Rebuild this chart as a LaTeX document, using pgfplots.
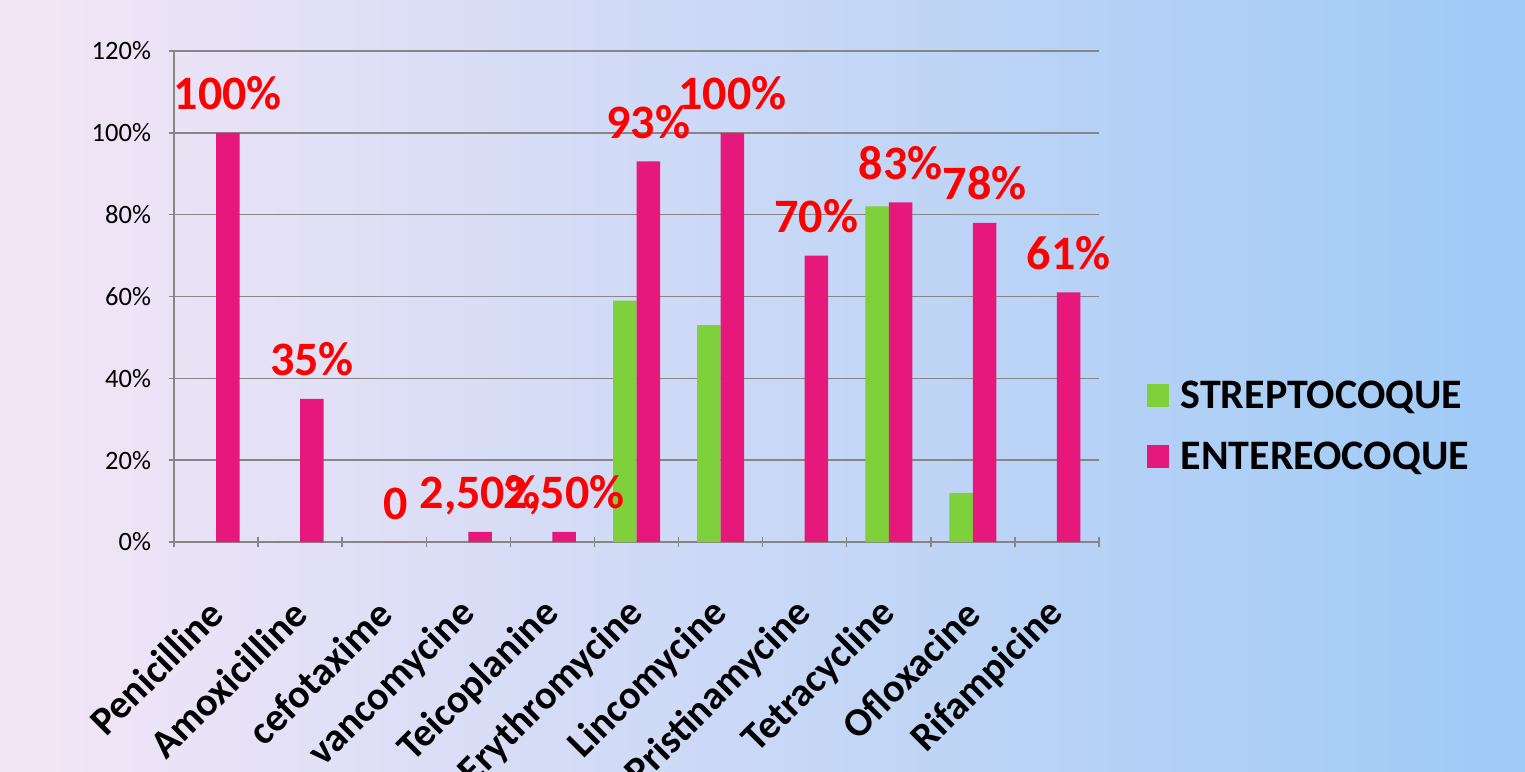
\documentclass[border=0pt]{standalone}
\usepackage{pgfplots}
\pgfplotsset{compat=1.18}
\usepackage{fontspec}
\setmainfont{Carlito}
\definecolor{bgL}{HTML}{F4E6F6}
\definecolor{bgR}{HTML}{9ECAF6}
\definecolor{strep}{HTML}{7FD13B}
\definecolor{entero}{HTML}{E6187C}
\definecolor{axgray}{HTML}{868686}
\begin{document}
\begin{tikzpicture}[x=1pt,y=1pt]
\useasboundingbox (0,0) rectangle (1525,771);
\shade[left color=bgL, right color=bgR] (0,0) rectangle (1525,771);
\begin{axis}[
  at={(174pt,229pt)}, anchor=south west,
  scale only axis, width=925pt, height=491pt,
  ybar=0pt, bar width=23.5pt,
  xmin=-0.5, xmax=10.5, ymin=0, ymax=120,
  xtick={-0.5,0.5,...,10.5},
  x tick label as interval,
  xticklabels={Penicilline,Amoxicilline,cefotaxime,vancomycine,Teicoplanine,Erythromycine,Lincomycine,Pristinamycine,Tetracycline,Ofloxacine,Rifampicine},
  xticklabel style={rotate=45, anchor=east, font=\fontsize{40}{44}\selectfont\bfseries, inner sep=0pt, yshift=-42.5pt, xshift=-42pt},
  ytick={0,20,...,120},
  yticklabel={\pgfmathprintnumber{\tick}\%},
  yticklabel style={font=\fontsize{26.5}{30}\selectfont, xshift=-14pt},
  /pgf/number format/assume math mode=true,
  tick align=outside, tick pos=left, major tick length=11pt,
  tick style={axgray, line width=1.5pt},
  axis lines=left,
  axis line style={axgray, line width=1.8pt, -},
  ymajorgrids, grid style={axgray, line width=1.5pt},
  legend style={at={(1.048,0.236)}, anchor=west, draw=none, fill=none,
    font=\fontsize{42}{46}\selectfont\bfseries, row sep=32pt,
    nodes={inner sep=0pt}},
  legend image code/.code={\fill[#1] (0pt,-11.5pt) rectangle (22pt,11.5pt);},
  legend cell align=left,
  every node near coord/.append style={anchor=base, yshift=23pt, text=red,
    font=\fontsize{48}{52}\selectfont\bfseries},
]
\addplot[fill=strep, draw=none] coordinates {(5,59) (6,53) (8,82) (9,12)};
\addlegendentry{\hspace{12pt}STREPTOCOQUE}
\addplot[fill=entero, draw=none, nodes near coords, point meta=explicit symbolic]
  table[meta=label] {
x y label
0 100 100\%
1 35 35\%
2 0 0
3 2.5 2,50\%
4 2.5 2,50\%
5 93 93\%
6 100 100\%
7 70 70\%
8 83 83\%
9 78 78\%
10 61 61\%
};
\addlegendentry{\hspace{12pt}ENTEREOCOQUE}
\end{axis}
\end{tikzpicture}
\end{document}
